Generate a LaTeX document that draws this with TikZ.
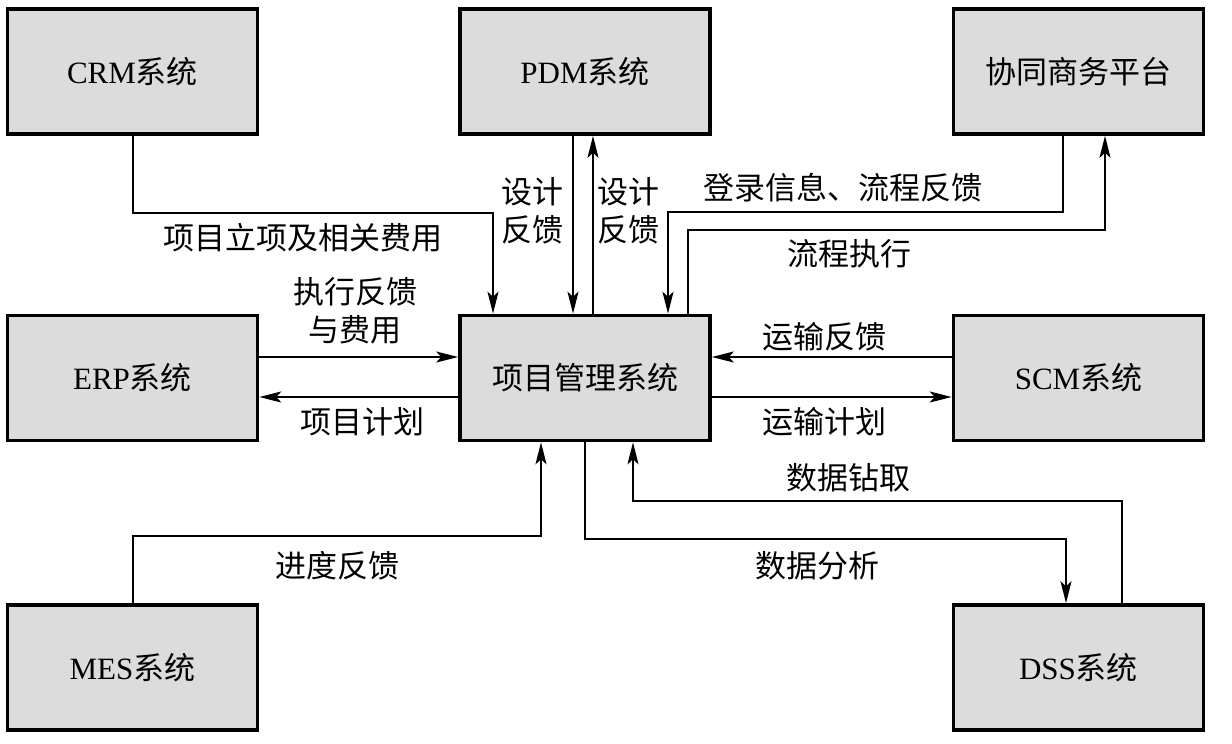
\documentclass[tikz,border=0pt]{standalone}
\usepackage{fontspec}
\setmainfont{Liberation Serif}
\newfontfamily\cjk{Noto Sans CJK SC}
\usetikzlibrary{arrows.meta}
\definecolor{boxgray}{RGB}{220,220,220}

\begin{document}
\begin{tikzpicture}[x=0.5pt, y=-0.5pt, ->, >={Stealth[length=11pt,width=5.5pt,inset=2.5pt]}, line width=1pt,
		sys/.style={draw, line width=1.8pt, fill=boxgray, minimum width=125pt, minimum height=62.5pt, inner sep=0pt, font=\fontsize{15.5}{18}\selectfont},
		lbl/.style={font=\fontsize{15.5}{19}\selectfont\cjk, align=center, inner sep=0pt}]
		\useasboundingbox (0,0) rectangle (1232,744);
		% Nodes
		\node[sys] (crm) at (132.5,71.5)  {CRM\cjk 系统};
		\node[sys] (pdm) at (585,71.5)    {PDM\cjk 系统};
		\node[sys] (xt)  at (1078.5,71.5) {\cjk 协同商务平台};
		\node[sys] (erp) at (132.5,378)   {ERP\cjk 系统};
		\node[sys] (pm)  at (585,378)     {\cjk 项目管理系统};
		\node[sys] (scm) at (1078.5,378)  {SCM\cjk 系统};
		\node[sys] (mes) at (132.5,667.5) {MES\cjk 系统};
		\node[sys] (dss) at (1078.5,667.5) {DSS\cjk 系统};
		% Labels
		\node[lbl] (l1)  at (303,238) {项目立项及相关费用};
		\node[lbl] (l2)  at (532,211) {设计\\反馈};
		\node[lbl] (l3)  at (628,211) {设计\\反馈};
		\node[lbl] (l4)  at (843,188) {登录信息、流程反馈};
		\node[lbl] (l5)  at (849,254) {流程执行};
		\node[lbl] (l6)  at (355,311) {执行反馈\\与费用};
		\node[lbl] (l7)  at (362,422) {项目计划};
		\node[lbl] (l8)  at (824,337) {运输反馈};
		\node[lbl] (l9)  at (824,422) {运输计划};
		\node[lbl] (l10) at (848,478) {数据钻取};
		\node[lbl] (l11) at (337,566) {进度反馈};
		\node[lbl] (l12) at (817,566) {数据分析};
		%Arrows
		\draw (crm.south) -- ++(0,77) -| ([xshift=-46pt]pm.north);
		\draw ([xshift=-6pt]pdm.south) -- ([xshift=-6pt]pm.north);
		\draw ([xshift=4pt]pm.north) -- ([xshift=4pt]pdm.south);
		\draw ([xshift=-8pt]xt.south) -- ++(0,76) -| ([xshift=41.5pt]pm.north);
		\draw ([xshift=51.5pt]pm.north) -- ++(0,-84) -| ([xshift=13.25pt]xt.south);
		\draw ([yshift=10.5pt]erp.east) -- ([yshift=10.5pt]pm.west);
		\draw ([yshift=-9.5pt]pm.west) -- ([yshift=-9.5pt]erp.east);
		\draw ([yshift=10.5pt]scm.west) -- ([yshift=10.5pt]pm.east);
		\draw ([yshift=-9.5pt]pm.east) -- ([yshift=-9.5pt]scm.west);
		\draw (mes.north) -- ++(0,-67) -| ([xshift=-22pt]pm.south);
		\draw (pm.south) -- ++(0,97) -| ([xshift=-6.25pt]dss.north);
		\draw ([xshift=21.75pt]dss.north) -- ++(0,-102) -| ([xshift=24pt]pm.south);
	\end{tikzpicture}
\end{document}
